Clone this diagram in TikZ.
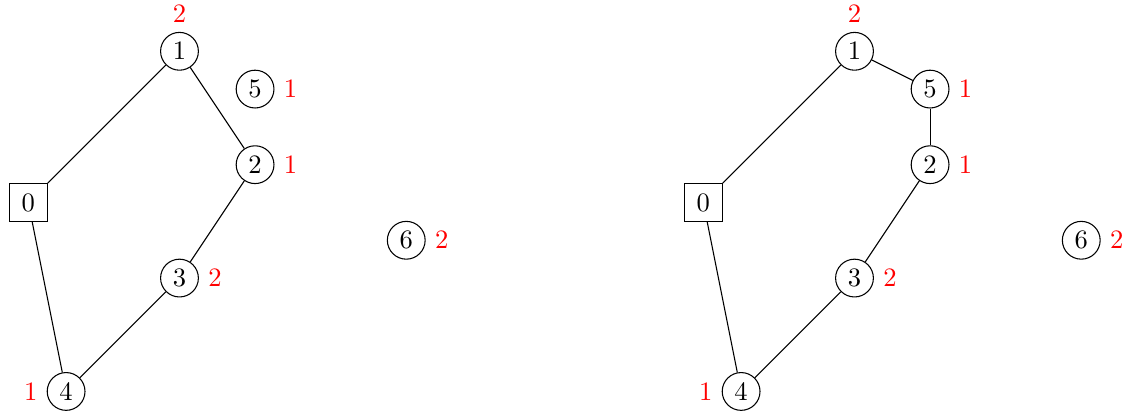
\documentclass[tikz,border=0pt]{standalone}
\usepackage{amsmath}
\usepackage{tikz}

\begin{document}
\begin{tikzpicture}[x=0.5cm,y=0.5cm,
    vtx/.style={draw,circle,inner sep=1pt,minimum size=5mm},
    depot/.style={draw,rectangle,inner sep=1pt,minimum size=5mm},
    dem/.style={text=red}]
    \useasboundingbox (-0.749,1.357) rectangle (29.15,-9.648);
    % first solution
    \begin{scope}
      \node (a0) at (0,-4) [depot] {$0$} ;
      \node (a1) at (4,0) [vtx] {$1$} ;
      \node (a5) at (6,-1) [vtx] {$5$} ;
      \node (a2) at (6,-3) [vtx] {$2$} ;
      \node (a6) at (10,-5) [vtx] {$6$} ;
      \node (a3) at (4,-6) [vtx] {$3$} ;
      \node (a4) at (1,-9) [vtx] {$4$} ;
      \node at (a1.north) [above,dem] {$2$} ;
      \node at (a5.east) [right,dem] {$1$} ;
      \node at (a2.east) [right,dem] {$1$} ;
      \node at (a6.east) [right,dem] {$2$} ;
      \node at (a3.east) [right,dem] {$2$} ;
      \node at (a4.west) [left,dem] {$1$} ;
      \draw (a0) to (a1);
      \draw (a1) to (a2);
      \draw (a2) to (a3);
      \draw (a3) to (a4);
      \draw (a4) to (a0);
    \end{scope}
    % second solution
    \begin{scope}[xshift=8.93cm]
      \node (b0) at (0,-4) [depot] {$0$} ;
      \node (b1) at (4,0) [vtx] {$1$} ;
      \node (b5) at (6,-1) [vtx] {$5$} ;
      \node (b2) at (6,-3) [vtx] {$2$} ;
      \node (b6) at (10,-5) [vtx] {$6$} ;
      \node (b3) at (4,-6) [vtx] {$3$} ;
      \node (b4) at (1,-9) [vtx] {$4$} ;
      \node at (b1.north) [above,dem] {$2$} ;
      \node at (b5.east) [right,dem] {$1$} ;
      \node at (b2.east) [right,dem] {$1$} ;
      \node at (b6.east) [right,dem] {$2$} ;
      \node at (b3.east) [right,dem] {$2$} ;
      \node at (b4.west) [left,dem] {$1$} ;
      \draw (b0) to (b1);
      \draw (b1) to (b5);
      \draw (b5) to (b2);
      \draw (b2) to (b3);
      \draw (b3) to (b4);
      \draw (b4) to (b0);
    \end{scope}
  \end{tikzpicture}
\end{document}
